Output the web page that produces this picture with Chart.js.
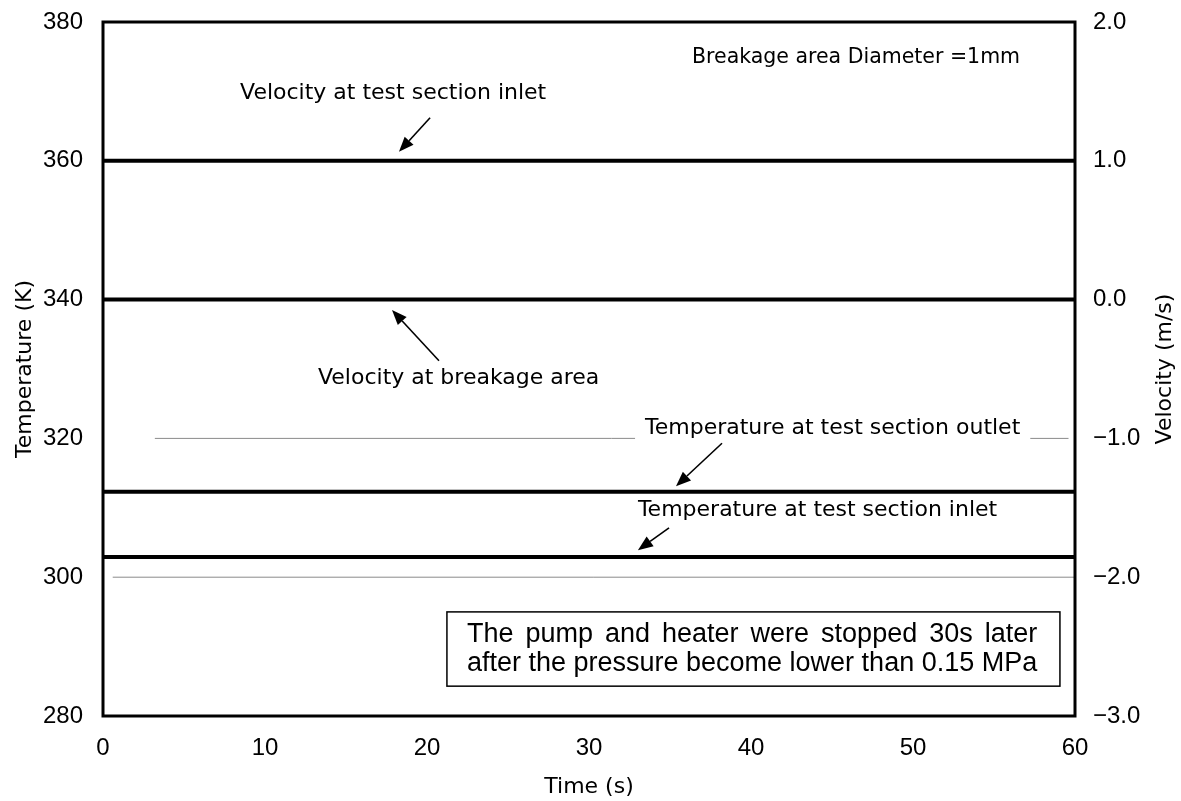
<!DOCTYPE html>
<html>
<head>
<meta charset="utf-8">
<script src="https://cdn.jsdelivr.net/npm/chart.js@4.4.1/dist/chart.umd.min.js"></script>
<style>
  html, body { margin: 0; padding: 0; background: #fff; }
</style>
</head>
<body>
<canvas id="chart" width="1181" height="801"></canvas>
<script>
// time span of every trace (s)
const time = [0, 60];

// velocity traces (m/s, right axis)
const velocityInlet = [1.0, 1.0];
const velocityBreakage = [0.0, 0.0];

// temperature traces (K, left axis)
const tempOutlet = [312.3, 312.3];
const tempInlet = [302.9, 302.9];

// faint thin traces
const faintTimeA = [3.2, 59.6];
const faintTempA = [320.0, 320.0];
const faintTimeB = [0.6, 60];
const faintTempB = [300.0, 300.0];

// ticks
const timeTicks = [0, 10, 20, 30, 40, 50, 60];
const tempTicks = [280, 300, 320, 340, 360, 380];
const velTicks = [-3, -2, -1, 0, 1, 2];

// annotation texts, anchored in data units (time, temperature)
const labelTexts = [
    "Velocity at test section inlet",
    "Velocity at breakage area",
    "Temperature at test section outlet",
    "Temperature at test section inlet",
    "Breakage area Diameter =1mm"
];
const labelTime = [8.46, 13.27, 33.46, 33.02, 36.36];
const labelTemp = [369.8, 328.7, 321.5, 309.7, 374.8];
const labelSize = [22, 22, 22, 22, 20.5];

// arrows: tail -> tip, in data units
const arrowTailTime = [20.19, 20.74, 38.21, 34.94];
const arrowTailTemp = [366.2, 331.2, 319.3, 307.1];
const arrowTipTime = [18.27, 17.84, 35.37, 33.02];
const arrowTipTemp = [361.3, 338.5, 313.1, 303.9];

// note box
const noteLines = [
    "The pump and heater were stopped 30s later",
    "after the pressure become lower than 0.15 MPa"
];
const noteTime = [21.23, 59.07];
const noteTemp = [295.0, 284.3];

const tickFont = { family: "'Liberation Sans', Arial, sans-serif", size: 24 };
const textFamily = "'DejaVu Sans', sans-serif";
const textFont = "22px " + textFamily;

function pts(xs, ys) {
    return xs.map((x, i) => ({ x: x, y: ys[i] }));
}

function drawArrow(ctx, x1, y1, x2, y2) {
    const ang = Math.atan2(y2 - y1, x2 - x1);
    const head = 15, half = 6;
    const bx = x2 - head * Math.cos(ang), by = y2 - head * Math.sin(ang);
    ctx.beginPath();
    ctx.moveTo(x1, y1);
    ctx.lineTo(bx, by);
    ctx.lineWidth = 1.6;
    ctx.stroke();
    ctx.beginPath();
    ctx.moveTo(x2, y2);
    ctx.lineTo(bx + half * Math.sin(ang), by - half * Math.cos(ang));
    ctx.lineTo(bx - half * Math.sin(ang), by + half * Math.cos(ang));
    ctx.closePath();
    ctx.fill();
}

const overlay = {
    id: 'overlay',
    afterDatasetsDraw(chart) {
        const { ctx, chartArea: a, scales: { x, yT } } = chart;
        ctx.save();
        ctx.fillStyle = '#000';
        ctx.strokeStyle = '#000';

        // text labels
        ctx.textBaseline = 'middle';
        ctx.textAlign = 'left';
        labelTexts.forEach((t, i) => {
            ctx.font = labelSize[i] + 'px ' + textFamily;
            const px = x.getPixelForValue(labelTime[i]);
            const py = yT.getPixelForValue(labelTemp[i]);
            const w = ctx.measureText(t).width;
            ctx.fillStyle = '#fff';
            ctx.fillRect(px - 10, py - 12, w + 20, 24);
            ctx.fillStyle = '#000';
            ctx.fillText(t, px, py);
        });

        // arrows
        arrowTailTime.forEach((t, i) => {
            drawArrow(ctx,
                x.getPixelForValue(t), yT.getPixelForValue(arrowTailTemp[i]),
                x.getPixelForValue(arrowTipTime[i]), yT.getPixelForValue(arrowTipTemp[i]));
        });

        // note box
        const bl = x.getPixelForValue(noteTime[0]), br = x.getPixelForValue(noteTime[1]);
        const bt = yT.getPixelForValue(noteTemp[0]), bb = yT.getPixelForValue(noteTemp[1]);
        ctx.fillStyle = '#fff';
        ctx.fillRect(bl, bt, br - bl, bb - bt);
        ctx.lineWidth = 1.5;
        ctx.strokeRect(bl, bt, br - bl, bb - bt);
        ctx.fillStyle = '#000';
        ctx.font = "27px 'Liberation Sans', Arial, sans-serif";
        const lineW = ctx.measureText(noteLines[1]).width;
        const tx = bl + 20;
        const midY = (bt + bb) / 2;
        // first line justified to the width of the second
        const words = noteLines[0].split(' ');
        const wordsW = words.reduce((s, w) => s + ctx.measureText(w).width, 0);
        const gap = (lineW - wordsW) / (words.length - 1);
        let cx = tx;
        words.forEach(w => {
            ctx.fillText(w, cx, midY - 14);
            cx += ctx.measureText(w).width + gap;
        });
        ctx.fillText(noteLines[1], tx, midY + 15);

        // frame
        ctx.lineWidth = 3;
        ctx.strokeRect(a.left, a.top, a.right - a.left, a.bottom - a.top);

        // axis titles
        ctx.font = textFont;
        ctx.textAlign = 'center';
        ctx.fillText('Time (s)', (a.left + a.right) / 2, a.bottom + 71);
        const my = (a.top + a.bottom) / 2;
        ctx.save();
        ctx.translate(a.left - 78, my);
        ctx.rotate(-Math.PI / 2);
        ctx.fillText('Temperature (K)', 0, 0);
        ctx.restore();
        ctx.save();
        ctx.translate(a.right + 90, my);
        ctx.rotate(-Math.PI / 2);
        ctx.fillText('Velocity (m/s)', 0, 0);
        ctx.restore();

        ctx.restore();
    }
};

const thick = { borderColor: '#000', borderWidth: 4, pointRadius: 0, fill: false, tension: 0 };
const faint = { borderColor: '#8a8a8a', borderWidth: 1, pointRadius: 0, fill: false, tension: 0 };

function fitY(width) {
    return s => {
        s.width = width;
        s.paddingTop = 0;
        s.paddingBottom = 0;
    };
}

new Chart(document.getElementById('chart').getContext('2d'), {
    type: 'line',
    data: {
        datasets: [
            Object.assign({ label: 'Velocity at test section inlet', data: pts(time, velocityInlet), yAxisID: 'yV' }, thick),
            Object.assign({ label: 'Velocity at breakage area', data: pts(time, velocityBreakage), yAxisID: 'yV' }, thick),
            Object.assign({ label: 'Temperature at test section outlet', data: pts(time, tempOutlet), yAxisID: 'yT' }, thick),
            Object.assign({ label: 'Temperature at test section inlet', data: pts(time, tempInlet), yAxisID: 'yT' }, thick),
            Object.assign({ label: 'trace A', data: pts(faintTimeA, faintTempA), yAxisID: 'yT' }, faint),
            Object.assign({ label: 'trace B', data: pts(faintTimeB, faintTempB), yAxisID: 'yT' }, faint)
        ]
    },
    options: {
        responsive: false,
        animation: false,
        devicePixelRatio: 1,
        layout: { padding: { top: 22, left: 0, right: 0, bottom: 0 } },
        plugins: { legend: { display: false }, tooltip: { enabled: false } },
        scales: {
            x: {
                type: 'linear', min: 0, max: 60,
                afterBuildTicks: s => { s.ticks = timeTicks.map(v => ({ value: v })); },
                afterFit: s => { s.height = 85; },
                grid: { display: false, drawTicks: false },
                border: { display: false },
                ticks: { font: tickFont, color: '#000', padding: 18, maxRotation: 0, autoSkip: false }
            },
            yT: {
                position: 'left', min: 280, max: 380,
                afterBuildTicks: s => { s.ticks = tempTicks.map(v => ({ value: v })); },
                afterFit: fitY(103),
                grid: { display: false, drawTicks: false },
                border: { display: false },
                ticks: { font: tickFont, color: '#000', padding: 20 }
            },
            yV: {
                position: 'right', min: -3, max: 2,
                afterBuildTicks: s => { s.ticks = velTicks.map(v => ({ value: v })); },
                afterFit: fitY(106),
                grid: { display: false, drawTicks: false },
                border: { display: false },
                ticks: {
                    font: tickFont, color: '#000', padding: 18,
                    callback: v => v.toFixed(1).replace('-', '\u2212')
                }
            }
        }
    },
    plugins: [overlay]
});
</script>
</body>
</html>
